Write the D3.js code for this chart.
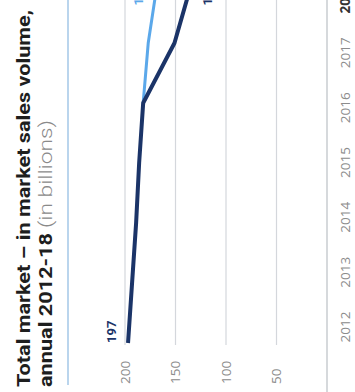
<!DOCTYPE html>
<html>
<head>
<meta charset="utf-8">
<script src="https://cdn.jsdelivr.net/npm/d3@7"></script>
<style>
  html, body { margin: 0; padding: 0; background: #fff; }
  svg { display: block; }
</style>
</head>
<body>
<div id="wrapper"></div>
<script>
// values
const years = [2012, 2013, 2014, 2015, 2016, 2017, 2018];
const mainValues = [197, 193, 189, 186, 182, 151, 134];
const altYears = [2016, 2017, 2018];
const altValues = [182, 177, 168];
const valueTicks = [50, 100, 150, 200];
const yearLabels = ["2012", "2013", "2014", "2015", "2016", "2017", "2018"];

// the chart is drawn upright in a 392 x 355 frame, then turned on its side
let dimensions = {
  width: 355,
  height: 392,
  frameW: 392,
  frameH: 355
}

let wrapper = d3.select("#wrapper").append("svg")
  .attr("width", dimensions.width)
  .attr("height", dimensions.height);
wrapper.append("rect").attr("width", dimensions.width).attr("height", dimensions.height).attr("fill", "#fff");

let frame = wrapper.append("g")
  .attr("transform", `translate(0,${dimensions.height}) rotate(-90)`);

let xScale = d3.scaleLinear().domain([2012, 2018]).range([49, 409]);
let labelScale = d3.scaleLinear().domain([2012, 2018]).range([65, 394]);
let yScale = d3.scaleLinear().domain([0, 200]).range([327, 125]);

// title
let t1 = frame.append("text")
  .attr("x", 5).attr("y", 30)
  .attr("font-family", "Roboto, sans-serif")
  .attr("font-weight", 700)
  .attr("font-size", 19)
  .attr("fill", "#1e1e1e")
  .attr("textLength", 377)
  .attr("lengthAdjust", "spacingAndGlyphs")
  .text("Total market \u2013 in market sales volume,");
frame.append("text")
  .attr("x", 5).attr("y", 52)
  .attr("font-family", "Roboto, sans-serif")
  .attr("font-weight", 700)
  .attr("font-size", 19)
  .attr("fill", "#1e1e1e")
  .attr("textLength", 154)
  .attr("lengthAdjust", "spacingAndGlyphs")
  .text("annual 2012-18");
frame.append("text")
  .attr("x", 164).attr("y", 52)
  .attr("font-family", "Roboto, sans-serif")
  .attr("font-weight", 300)
  .attr("font-size", 18)
  .attr("fill", "#8a8a8a")
  .attr("textLength", 108)
  .attr("lengthAdjust", "spacingAndGlyphs")
  .text("(in billions)");

// rule under the title
frame.append("line")
  .attr("x1", 7).attr("x2", dimensions.frameW)
  .attr("y1", 68).attr("y2", 68)
  .attr("stroke", "#a9cbe9").attr("stroke-width", 1.6);

// grid
frame.append("g").selectAll("line")
  .data(valueTicks)
  .enter()
  .append("line")
  .attr("x1", 47).attr("x2", dimensions.frameW)
  .attr("y1", d => yScale(d)).attr("y2", d => yScale(d))
  .attr("stroke", "#d4d7dc").attr("stroke-width", 1.2);
frame.append("line")
  .attr("x1", 0).attr("x2", dimensions.frameW)
  .attr("y1", yScale(0)).attr("y2", yScale(0))
  .attr("stroke", "#c9ccd1").attr("stroke-width", 1.5);

// value labels
frame.append("g").selectAll("text")
  .data(valueTicks)
  .enter()
  .append("text")
  .attr("x", 8)
  .attr("y", d => yScale(d))
  .attr("dy", "0.35em")
  .attr("font-family", "'Open Sans', sans-serif")
  .attr("font-size", 13.5)
  .attr("fill", "#8c8c8c")
  .text(d => d);

// year labels
frame.append("g").selectAll("text")
  .data(years)
  .enter()
  .append("text")
  .attr("x", d => labelScale(d))
  .attr("y", 345)
  .attr("dy", "0.35em")
  .attr("text-anchor", "middle")
  .attr("font-family", "'Open Sans', sans-serif")
  .attr("font-size", 13.5)
  .attr("font-weight", (d, i) => i == years.length - 1 ? 700 : 400)
  .attr("fill", (d, i) => i == years.length - 1 ? "#333" : "#8c8c8c")
  .text((d, i) => yearLabels[i]);

// lines
let lineGen = d3.line()
  .x(d => xScale(d[0]))
  .y(d => yScale(d[1]));

frame.append("path")
  .datum(altYears.map((y, i) => [y, altValues[i]]))
  .attr("d", lineGen)
  .attr("fill", "none")
  .attr("stroke", "#5ba8ea")
  .attr("stroke-width", 3);

frame.append("path")
  .datum(years.map((y, i) => [y, mainValues[i]]))
  .attr("d", lineGen)
  .attr("fill", "none")
  .attr("stroke", "#1b3468")
  .attr("stroke-width", 4)
  .attr("stroke-linejoin", "round");

// value labels at the ends
frame.append("text")
  .attr("x", xScale(2012))
  .attr("y", yScale(mainValues[0]) - 12)
  .attr("font-family", "Roboto, sans-serif")
  .attr("font-weight", 700)
  .attr("font-size", 13)
  .attr("fill", "#1b3468")
  .text(mainValues[0]);
frame.append("text")
  .attr("x", xScale(2018))
  .attr("y", yScale(altValues[2]) - 14)
  .attr("text-anchor", "end")
  .attr("font-family", "Roboto, sans-serif")
  .attr("font-weight", 700)
  .attr("font-size", 13)
  .attr("fill", "#5ba8ea")
  .text(altValues[2]);
frame.append("text")
  .attr("x", xScale(2018))
  .attr("y", yScale(mainValues[6]) + 20)
  .attr("text-anchor", "end")
  .attr("font-family", "Roboto, sans-serif")
  .attr("font-weight", 700)
  .attr("font-size", 13)
  .attr("fill", "#1b3468")
  .text(mainValues[6]);
</script>
</body>
</html>
